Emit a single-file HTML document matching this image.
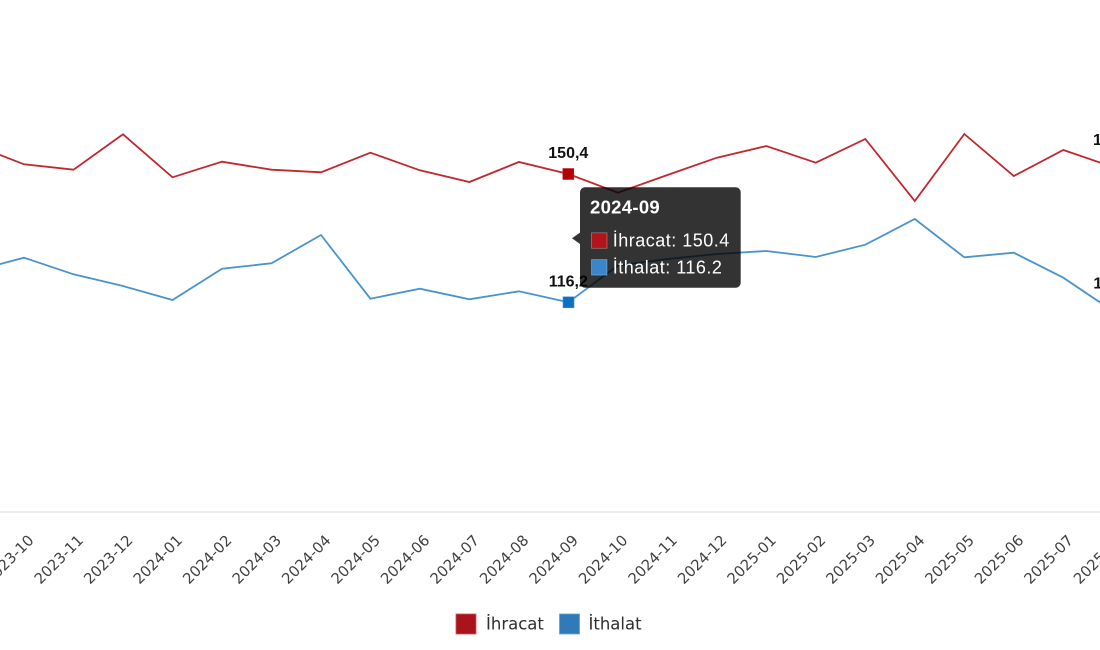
<!DOCTYPE html>
<html>
<head>
<meta charset="utf-8">
<style>
  html, body { margin:0; padding:0; background:#ffffff; }
  body { width:1100px; height:650px; overflow:hidden; }
  svg { display:block; }
  .tick { font-family:"DejaVu Sans","Liberation Sans",sans-serif; font-size:14.8px; fill:#404040; }
  .vlab { font-family:"Liberation Sans",Arial,sans-serif; font-size:16px; font-weight:bold; fill:#111; }
  .leg { font-family:"DejaVu Sans","Liberation Sans",sans-serif; font-size:16.5px; fill:#2e2e2e; }
  .tt { font-family:"Liberation Sans",Arial,sans-serif; fill:#fff; }
</style>
</head>
<body>
<svg width="1100" height="650" viewBox="0 0 1100 650" xmlns="http://www.w3.org/2000/svg">
  <rect x="0" y="0" width="1100" height="650" fill="#ffffff"/>

  <!-- axis line -->
  <line x1="0" y1="512" x2="1100" y2="512" stroke="#e0e0e0" stroke-width="1.2"/>

  <!-- Ihracat (red) -->
  <polyline fill="none" stroke="#c1272d" stroke-width="1.8" stroke-linejoin="miter"
    points="-25.5,145 24,164.3 73.5,169.7 123,134.3 172.5,177.3 222,161.7 271.5,169.7 321,172.3 370.4,152.7 419.9,170.3 469.4,182 518.9,162 568.4,174 617.9,192.7 667.4,175 716.9,157.7 766.4,146 815.8,162.7 865.3,139 914.8,201 964.3,134 1013.8,176 1063.3,150 1112.8,167"/>

  <!-- Ithalat (blue) -->
  <polyline fill="none" stroke="#4a93cb" stroke-width="1.8" stroke-linejoin="miter"
    points="-25.5,270.8 24,257.7 73.5,274.3 123,286 172.5,300 222,268.7 271.5,263.3 321,235 370.4,298.7 419.9,288.7 469.4,299.3 518.9,291.3 568.4,302.3 617.9,265.5 667.4,259 716.9,254 766.4,251 815.8,257 865.3,244.7 914.8,219 964.3,257.3 1013.8,252.7 1063.3,277.7 1112.8,311"/>

  <!-- markers -->
  <rect x="562.8" y="168.5" width="11" height="11" fill="#b30000" stroke="#c1272d" stroke-width="0.6"/>
  <rect x="563" y="296.8" width="11" height="11" fill="#0b6fc2" stroke="#4a93cb" stroke-width="0.6"/>

  <!-- value labels -->
  <text class="vlab" x="568.3" y="158" text-anchor="middle">150,4</text>
  <text class="vlab" x="568.3" y="286.5" text-anchor="middle">116,2</text>
  <text class="vlab" x="1113" y="145" text-anchor="middle">153,1</text>
  <text class="vlab" x="1113" y="288.5" text-anchor="middle">113,9</text>

  <!-- x tick labels -->
  <g>
    <text class="tick" text-anchor="end" dominant-baseline="central" x="31.5" y="538" transform="rotate(-45 31.5 538)">2023-10</text>
    <text class="tick" text-anchor="end" dominant-baseline="central" x="81" y="538" transform="rotate(-45 81 538)">2023-11</text>
    <text class="tick" text-anchor="end" dominant-baseline="central" x="130.5" y="538" transform="rotate(-45 130.5 538)">2023-12</text>
    <text class="tick" text-anchor="end" dominant-baseline="central" x="180" y="538" transform="rotate(-45 180 538)">2024-01</text>
    <text class="tick" text-anchor="end" dominant-baseline="central" x="229.5" y="538" transform="rotate(-45 229.5 538)">2024-02</text>
    <text class="tick" text-anchor="end" dominant-baseline="central" x="279" y="538" transform="rotate(-45 279 538)">2024-03</text>
    <text class="tick" text-anchor="end" dominant-baseline="central" x="328.5" y="538" transform="rotate(-45 328.5 538)">2024-04</text>
    <text class="tick" text-anchor="end" dominant-baseline="central" x="377.9" y="538" transform="rotate(-45 377.9 538)">2024-05</text>
    <text class="tick" text-anchor="end" dominant-baseline="central" x="427.4" y="538" transform="rotate(-45 427.4 538)">2024-06</text>
    <text class="tick" text-anchor="end" dominant-baseline="central" x="476.9" y="538" transform="rotate(-45 476.9 538)">2024-07</text>
    <text class="tick" text-anchor="end" dominant-baseline="central" x="526.4" y="538" transform="rotate(-45 526.4 538)">2024-08</text>
    <text class="tick" text-anchor="end" dominant-baseline="central" x="575.9" y="538" transform="rotate(-45 575.9 538)">2024-09</text>
    <text class="tick" text-anchor="end" dominant-baseline="central" x="625.4" y="538" transform="rotate(-45 625.4 538)">2024-10</text>
    <text class="tick" text-anchor="end" dominant-baseline="central" x="674.9" y="538" transform="rotate(-45 674.9 538)">2024-11</text>
    <text class="tick" text-anchor="end" dominant-baseline="central" x="724.4" y="538" transform="rotate(-45 724.4 538)">2024-12</text>
    <text class="tick" text-anchor="end" dominant-baseline="central" x="773.9" y="538" transform="rotate(-45 773.9 538)">2025-01</text>
    <text class="tick" text-anchor="end" dominant-baseline="central" x="823.3" y="538" transform="rotate(-45 823.3 538)">2025-02</text>
    <text class="tick" text-anchor="end" dominant-baseline="central" x="872.8" y="538" transform="rotate(-45 872.8 538)">2025-03</text>
    <text class="tick" text-anchor="end" dominant-baseline="central" x="922.3" y="538" transform="rotate(-45 922.3 538)">2025-04</text>
    <text class="tick" text-anchor="end" dominant-baseline="central" x="971.8" y="538" transform="rotate(-45 971.8 538)">2025-05</text>
    <text class="tick" text-anchor="end" dominant-baseline="central" x="1021.3" y="538" transform="rotate(-45 1021.3 538)">2025-06</text>
    <text class="tick" text-anchor="end" dominant-baseline="central" x="1070.8" y="538" transform="rotate(-45 1070.8 538)">2025-07</text>
    <text class="tick" text-anchor="end" dominant-baseline="central" x="1120.3" y="538" transform="rotate(-45 1120.3 538)">2025-08</text>
  </g>

  <!-- legend -->
  <rect x="456" y="614" width="20" height="20" fill="#a8141b" stroke="#c8555a" stroke-width="0.8"/>
  <text class="leg" x="486" y="629.5">İhracat</text>
  <rect x="559.5" y="614" width="20" height="20" fill="#2f7ab8" stroke="#6a9fcc" stroke-width="0.8"/>
  <text class="leg" x="588.5" y="629.5">İthalat</text>

  <!-- tooltip -->
  <g>
    <path d="M585,187.3 H735.7 A5,5 0 0 1 740.7,192.3 V282.7 A5,5 0 0 1 735.7,287.7 H585 A5,5 0 0 1 580,282.7 V244 L572,238.3 L580,232.6 V192.3 A5,5 0 0 1 585,187.3 Z" fill="rgba(0,0,0,0.8)"/>
    <text class="tt" x="590" y="213.3" font-size="18.5" font-weight="bold" letter-spacing="0.3">2024-09</text>
    <rect x="591.5" y="232.8" width="15.5" height="15.5" fill="#b01519" stroke="#ffffff" stroke-opacity="0.35" stroke-width="0.8"/>
    <text class="tt" x="612.7" y="246.7" font-size="18" letter-spacing="0.5">İhracat: 150.4</text>
    <rect x="591.5" y="259.6" width="15.5" height="15.5" fill="#3a86c8" stroke="#ffffff" stroke-opacity="0.35" stroke-width="0.8"/>
    <text class="tt" x="612.7" y="273.3" font-size="18" letter-spacing="0.5">İthalat: 116.2</text>
  </g>
</svg>
</body>
</html>
